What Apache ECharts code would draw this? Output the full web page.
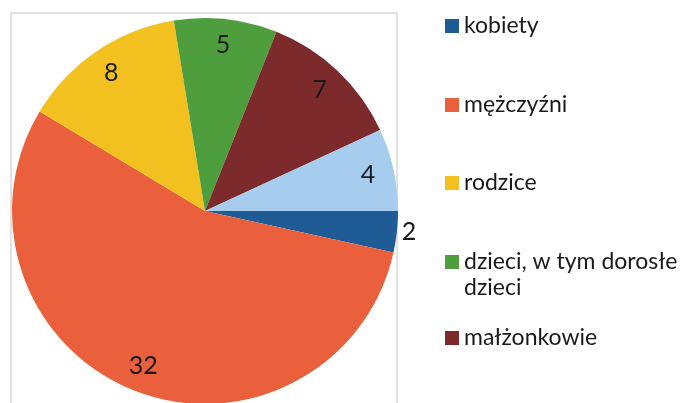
<!DOCTYPE html>
<html>
<head>
<meta charset="utf-8">
<script src="https://cdn.jsdelivr.net/npm/echarts@6/dist/echarts.min.js"></script>
<style>
  html, body { margin: 0; padding: 0; background: #fff; }
  #main { width: 680px; height: 403px; }
</style>
</head>
<body>
<div id="main"></div>
<script>
var chartDom = document.getElementById('main');
var myChart = echarts.init(chartDom);

// dane
var names = ['kobiety', 'mężczyźni', 'rodzice', 'dzieci, w tym dorosłe dzieci', 'małżonkowie', 'rodzeństwo'];
var values = [2, 32, 8, 5, 7, 4];
var colors = ['#1f5b94', '#ea5f3c', '#f3c11f', '#4f9e3e', '#7d2a2c', '#a6cdee'];
var legendNames = ['kobiety', 'mężczyźni', 'rodzice', 'dzieci, w tym dorosłe dzieci', 'małżonkowie'];
var legendTops = [8, 87, 165, 218, 320];

var font = 'Lato';

var pieData = names.map(function (n, i) {
    return { name: n, value: values[i], itemStyle: { color: colors[i] } };
});

var labelData = names.map(function (n, i) {
    var d = { name: n, value: values[i] };
    if (i === 0) {
        d.label = { position: 'outside' };
    }
    return d;
});

var legends = legendNames.map(function (n, i) {
    return {
        data: [n],
        left: 440,
        top: legendTops[i],
        orient: 'vertical',
        icon: 'rect',
        itemWidth: 14,
        itemHeight: 14,
        itemGap: 4,
        selectedMode: false,
        formatter: function (name) {
            // dwuwierszowa pozycja: pusta linia nad, zeby kwadrat byl przy pierwszym wierszu
            if (name.indexOf('dorosłe ') > -1) {
                return ' \n' + name.replace('dorosłe ', 'dorosłe\n');
            }
            return name;
        },
        textStyle: {
            fontFamily: font,
            fontSize: 23,
            color: '#1a1a1a',
            lineHeight: 26
        }
    };
});

var option = {
    animation: false,
    legend: legends,
    graphic: [{
        type: 'rect',
        z: -10,
        shape: { x: 11, y: 13, width: 386, height: 420 },
        style: { fill: 'none', stroke: '#c4c4c4', lineWidth: 1 }
    }],
    series: [{
        type: 'pie',
        center: [205, 211],
        radius: 193,
        startAngle: 0,
        clockwise: true,
        label: { show: false },
        labelLine: { show: false },
        emphasis: { disabled: true },
        data: pieData
    }, {
        type: 'pie',
        center: [205, 211],
        radius: [135, 193],
        startAngle: 0,
        clockwise: true,
        silent: true,
        itemStyle: { color: 'rgba(0,0,0,0)' },
        label: {
            position: 'inside',
            formatter: '{c}',
            fontFamily: font,
            fontSize: 25,
            color: '#1a1a1a'
        },
        labelLine: { show: false, length: 0, length2: 0 },
        data: labelData
    }]
};

option && myChart.setOption(option);
</script>
</body>
</html>
